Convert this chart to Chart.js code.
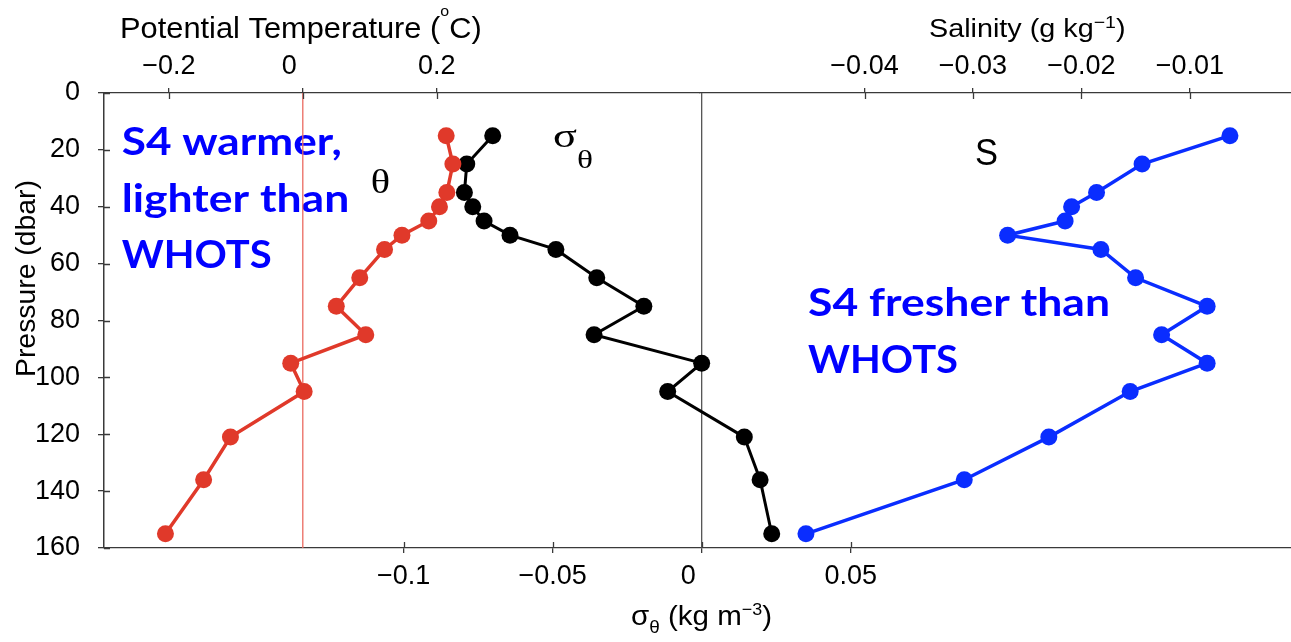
<!DOCTYPE html>
<html>
<head>
<meta charset="utf-8">
<script src="https://cdn.jsdelivr.net/npm/chart.js@4.4.1/dist/chart.umd.min.js"></script>
<style>
	html, body { margin: 0; padding: 0; background: #fff; overflow: hidden; }
	canvas { display: block; }
</style>
</head>
<body>
<canvas id="grafico" width="1291" height="642"></canvas>
<script>
// pressure levels (dbar), shared by the three profiles
var pressure = [15, 25, 35, 40, 45, 50, 55, 65, 75, 85, 95, 105, 121, 136, 155];
// S4 minus WHOTS differences
var theta = [0.214, 0.224, 0.215, 0.204, 0.188, 0.148, 0.122, 0.085, 0.050, 0.094, -0.018, 0.002, -0.108, -0.148, -0.205];
var sigma = [-0.0701, -0.0788, -0.0796, -0.0768, -0.0730, -0.0643, -0.0489, -0.0352, -0.0194, -0.0361, 0.0000, -0.0114, 0.0143, 0.0196, 0.0235];
var salinity = [-0.0063, -0.0144, -0.0186, -0.0209, -0.0215, -0.0268, -0.0182, -0.0150, -0.0084, -0.0126, -0.0084, -0.0155, -0.0230, -0.0308, -0.0454];

// tick labels
var thetaTicks = [-0.2, 0, 0.2];
var salinityTicks = [-0.04, -0.03, -0.02, -0.01];
var sigmaTicks = [-0.1, -0.05, 0, 0.05];
var pressureTicks = [0, 20, 40, 60, 80, 100, 120, 140, 160];

// axis ranges (the two top axes share the top band, theta on the left part, salinity on the right part)
var thetaRange = [-0.29672, 0.59284];
var salinityRange = [-0.055172, -0.000667];
var sigmaRange = [-0.2005, 0.1977];
var pressureRange = [0, 160];

var tickFont = { family: '"Liberation Sans", Arial, sans-serif', size: 27 };
var axisColor = '#3a3a3a';

function toPoints(xs) {
	return pressure.map(function (p, i) { return { x: xs[i], y: p }; });
}

function tickLabel(v) {
	if (v == 0) return '0\u2003';
	return (v < 0 ? '\u2212' : '') + Math.abs(v);
}

function fixedTicks(list) {
	return function (scale) {
		scale.ticks = list.map(function (v) { return { value: v }; });
	};
}

function xAxis(pos, range, list, size, pad) {
	return {
		type: 'linear', position: pos, min: range[0], max: range[1],
		afterFit: function (s) { s.height = size; },
		afterBuildTicks: fixedTicks(list),
		grid: { drawOnChartArea: false, drawTicks: true, tickLength: 5, color: axisColor, lineWidth: 1.3 },
		border: { display: true, color: axisColor, width: 1.3 },
		ticks: { autoSkip: false, maxRotation: 0, minRotation: 0, padding: pad, color: '#000', font: tickFont, callback: tickLabel }
	};
}

// draws a line of text made of pieces (sub/superscripts), stretched to a given width
function drawRich(ctx, parts, x, y, width) {
	var total = 0;
	parts.forEach(function (p) {
		ctx.font = p.font;
		p.w = ctx.measureText(p.t).width;
		total += p.w;
	});
	var sx = width ? width / total : 1;
	ctx.save();
	ctx.translate(x, y);
	ctx.scale(sx, 1);
	var cx = 0;
	parts.forEach(function (p) {
		ctx.font = p.font;
		ctx.fillText(p.t, cx, p.dy || 0);
		cx += p.w;
	});
	ctx.restore();
}

var sans = '"Liberation Sans", Arial, sans-serif';
var serif = '"Liberation Serif", "Times New Roman", serif';
var bold = 'bold 39px Lato, "Open Sans", sans-serif';

var textPlugin = {
	id: 'testi',
	beforeDatasetsDraw: function (chart) {
		var ctx = chart.ctx;
		ctx.save();
		ctx.textAlign = 'left';
		ctx.textBaseline = 'alphabetic';
		ctx.fillStyle = '#0000ff';
		drawRich(ctx, [{ t: 'S4 warmer,', font: bold }], 121.7, 155, 220);
		drawRich(ctx, [{ t: 'lighter than', font: bold }], 121.7, 211.7, 227.6);
		drawRich(ctx, [{ t: 'WHOTS', font: bold }], 121.7, 268.3, 150);
		drawRich(ctx, [{ t: 'S4 fresher than', font: bold }], 808, 316, 302);
		drawRich(ctx, [{ t: 'WHOTS', font: bold }], 808, 373, 150);
		ctx.restore();
	},
	afterDraw: function (chart) {
		var ctx = chart.ctx;
		var area = chart.chartArea;
		ctx.save();

		// inner half of the tick marks
		ctx.strokeStyle = axisColor;
		ctx.lineWidth = 1.3;
		ctx.beginPath();
		['xT', 'xS'].forEach(function (id) {
			var sc = chart.scales[id];
			sc.ticks.forEach(function (t) {
				var px = Math.round(sc.getPixelForValue(t.value)) + 0.5;
				ctx.moveTo(px, area.top); ctx.lineTo(px, area.top + 6);
			});
		});
		chart.scales.xSig.ticks.forEach(function (t) {
			var px = Math.round(chart.scales.xSig.getPixelForValue(t.value)) + 0.5;
			ctx.moveTo(px, area.bottom); ctx.lineTo(px, area.bottom - 6);
		});
		chart.scales.y.ticks.forEach(function (t) {
			var py = Math.round(chart.scales.y.getPixelForValue(t.value)) + 0.5;
			ctx.moveTo(area.left, py); ctx.lineTo(area.left + 6, py);
		});
		ctx.stroke();

		ctx.fillStyle = '#000';
		ctx.textAlign = 'left';
		ctx.textBaseline = 'alphabetic';

		// axis titles
		drawRich(ctx, [
			{ t: 'Potential Temperature (', font: '29px ' + sans },
			{ t: 'o', font: '15px ' + sans, dy: -22 },
			{ t: 'C)', font: '29px ' + sans }
		], 120, 38.3, 361.7);
		drawRich(ctx, [
			{ t: 'Salinity (g kg', font: '25px ' + sans },
			{ t: '\u22121', font: '17px ' + sans, dy: -9 },
			{ t: ')', font: '25px ' + sans }
		], 929, 36.7, 196.5);
		drawRich(ctx, [
			{ t: '\u03c3', font: '28px ' + sans },
			{ t: '\u03b8', font: '18px ' + sans, dy: 8 },
			{ t: ' (kg m', font: '28px ' + sans },
			{ t: '\u22123', font: '17px ' + sans, dy: -10 },
			{ t: ')', font: '28px ' + sans }
		], 631, 625, 141);

		ctx.save();
		ctx.translate(35, 377);
		ctx.rotate(-Math.PI / 2);
		drawRich(ctx, [{ t: 'Pressure (dbar)', font: '28px ' + sans }], 0, 0, 197);
		ctx.restore();

		// profile labels
		drawRich(ctx, [{ t: '\u03b8', font: '33px ' + serif }], 370.7, 193, 19.3);
		drawRich(ctx, [{ t: '\u03c3', font: '34px ' + serif }], 553, 147, 24);
		drawRich(ctx, [{ t: '\u03b8', font: '25px ' + serif }], 577, 168, 16);
		drawRich(ctx, [{ t: 'S', font: '37px ' + sans }], 975, 165, 23);

		ctx.restore();
	}
};

var thetaAxis = xAxis('top', thetaRange, thetaTicks, 93, 5);
thetaAxis.stack = 'sopra';
thetaAxis.stackWeight = 596;
thetaAxis.weight = 1;
var salinityAxis = xAxis('top', salinityRange, salinityTicks, 93, 5);
salinityAxis.stack = 'sopra';
salinityAxis.stackWeight = 591;
salinityAxis.weight = 0;

var config = {
	type: 'line',
	data: {
		datasets: [
			{ label: 'theta', data: toPoints(theta), xAxisID: 'xT', yAxisID: 'y',
				borderColor: '#e0392a', backgroundColor: '#e0392a', borderWidth: 3.5,
				pointRadius: 8.5, pointBorderWidth: 0, tension: 0 },
			{ label: 'sigma', data: toPoints(sigma), xAxisID: 'xSig', yAxisID: 'y',
				borderColor: '#000', backgroundColor: '#000', borderWidth: 3,
				pointRadius: 8.5, pointBorderWidth: 0, tension: 0 },
			{ label: 'S', data: toPoints(salinity), xAxisID: 'xS', yAxisID: 'y',
				borderColor: '#0a2dff', backgroundColor: '#0a2dff', borderWidth: 3.5,
				pointRadius: 8.5, pointBorderWidth: 0, tension: 0 },
			// zero lines
			{ label: 'theta0', data: [{ x: 0, y: pressureRange[0] }, { x: 0, y: pressureRange[1] }], xAxisID: 'xT', yAxisID: 'y',
				borderColor: '#ea6a60', borderWidth: 1.3, pointRadius: 0 },
			{ label: 'sigma0', data: [{ x: 0, y: pressureRange[0] }, { x: 0, y: pressureRange[1] }], xAxisID: 'xSig', yAxisID: 'y',
				borderColor: '#555', borderWidth: 1.3, pointRadius: 0 }
		]
	},
	options: {
		responsive: false,
		animation: false,
		devicePixelRatio: 1,
		layout: { autoPadding: false, padding: 0 },
		plugins: { legend: { display: false }, tooltip: { enabled: false } },
		scales: {
			xT: thetaAxis,
			xS: salinityAxis,
			xSig: xAxis('bottom', sigmaRange, sigmaTicks, 94, 7),
			y: {
				type: 'linear', position: 'left', reverse: true,
				min: pressureRange[0], max: pressureRange[1],
				afterFit: function (s) { s.width = 104; },
				afterBuildTicks: fixedTicks(pressureTicks),
				grid: { drawOnChartArea: false, drawTicks: true, tickLength: 6, color: axisColor, lineWidth: 1.3 },
				border: { display: true, color: axisColor, width: 1.5 },
				ticks: { autoSkip: false, padding: 18, color: '#000', font: tickFont }
			}
		}
	},
	plugins: [textPlugin]
};

var grafico = new Chart(document.getElementById('grafico').getContext('2d'), config);
</script>
</body>
</html>
